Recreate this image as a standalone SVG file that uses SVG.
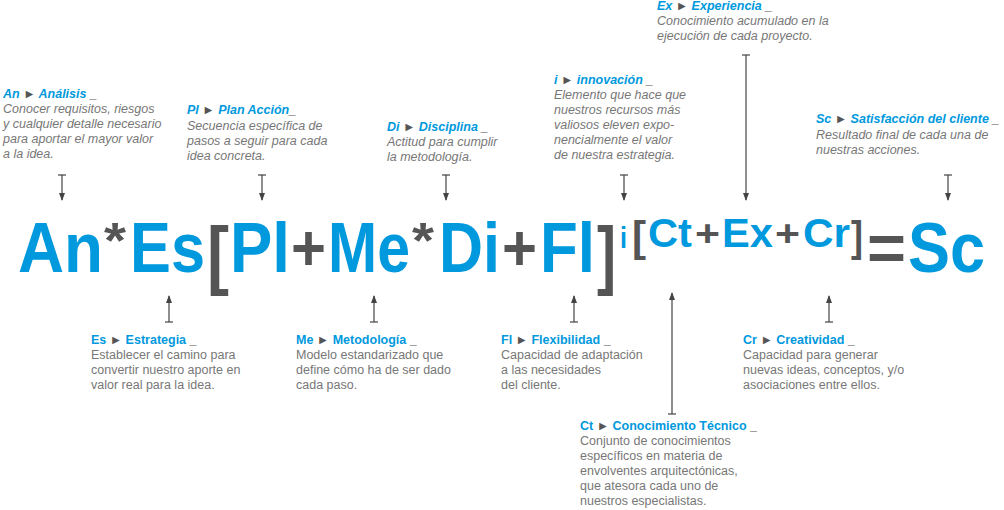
<svg xmlns="http://www.w3.org/2000/svg" width="1004" height="510" viewBox="0 0 1004 510">
<defs>
<marker id="ah" viewBox="0 0 8 8" refX="7" refY="4" markerWidth="8" markerHeight="8" markerUnits="userSpaceOnUse" orient="auto"><path d="M0,1 L8,4 L0,7 Z" fill="#444"/></marker>
<marker id="tk" viewBox="0 0 2 8" refX="1" refY="4" markerWidth="2" markerHeight="8" markerUnits="userSpaceOnUse" orient="auto"><path d="M1,0 V8" stroke="#444" stroke-width="1.2"/></marker>
</defs>
<style>
.b{fill:#0099dd;font-family:"Liberation Sans",Arial,sans-serif;font-weight:bold}
.g{fill:#555;font-family:"Liberation Sans",Arial,sans-serif;font-weight:bold}
.t{fill:#0099dd;font-family:"Liberation Sans",Arial,sans-serif;font-weight:bold;font-size:12.5px}
.ti{font-style:italic}
.d{fill:#777;font-family:"Liberation Sans",Arial,sans-serif;font-size:12.5px}
.di{font-style:italic}
.tg{fill:#555}
line{stroke:#444;stroke-width:1.2;marker-start:url(#tk);marker-end:url(#ah)}
</style>
<g id="connectors">
<line x1="62" y1="175" x2="62" y2="200"/>
<line x1="262" y1="175" x2="262" y2="200"/>
<line x1="446" y1="175" x2="446" y2="200"/>
<line x1="624" y1="175" x2="624" y2="200"/>
<line x1="746" y1="55" x2="746" y2="200"/>
<line x1="948" y1="175" x2="948" y2="200"/>
<line x1="169" y1="322" x2="169" y2="296"/>
<line x1="374" y1="322" x2="374" y2="296"/>
<line x1="574" y1="322" x2="574" y2="296"/>
<line x1="672" y1="414" x2="672" y2="293"/>
<line x1="829" y1="322" x2="829" y2="296"/>
</g>
<g id="formula">
<text class="b" x="18" y="272" font-size="70" textLength="85" lengthAdjust="spacingAndGlyphs">An</text>
<text class="g" x="104" y="258" font-size="50" textLength="22" lengthAdjust="spacingAndGlyphs">*</text>
<text class="b" x="130" y="272" font-size="70" textLength="75" lengthAdjust="spacingAndGlyphs">Es</text>
<text class="g" x="207" y="280" font-size="76" textLength="22" lengthAdjust="spacingAndGlyphs">[</text>
<text class="b" x="230" y="272" font-size="70" textLength="60" lengthAdjust="spacingAndGlyphs">Pl</text>
<text class="g" x="291" y="270" font-size="64" textLength="35" lengthAdjust="spacingAndGlyphs">+</text>
<text class="b" x="328" y="272" font-size="70" textLength="82" lengthAdjust="spacingAndGlyphs">Me</text>
<text class="g" x="412" y="258" font-size="50" textLength="22" lengthAdjust="spacingAndGlyphs">*</text>
<text class="b" x="439" y="272" font-size="70" textLength="61" lengthAdjust="spacingAndGlyphs">Di</text>
<text class="g" x="502" y="270" font-size="64" textLength="35" lengthAdjust="spacingAndGlyphs">+</text>
<text class="b" x="540" y="272" font-size="70" textLength="55" lengthAdjust="spacingAndGlyphs">Fl</text>
<text class="g" x="597" y="280" font-size="76" textLength="19" lengthAdjust="spacingAndGlyphs">]</text>
<text class="b" x="620" y="248" font-size="30" textLength="7" lengthAdjust="spacingAndGlyphs">i</text>
<text class="g" x="632" y="251" font-size="42" textLength="14" lengthAdjust="spacingAndGlyphs">[</text>
<text class="b" x="648" y="247" font-size="40" textLength="44" lengthAdjust="spacingAndGlyphs">Ct</text>
<text class="g" x="695" y="246" font-size="36" textLength="25" lengthAdjust="spacingAndGlyphs">+</text>
<text class="b" x="722" y="247" font-size="40" textLength="51" lengthAdjust="spacingAndGlyphs">Ex</text>
<text class="g" x="775" y="246" font-size="36" textLength="25" lengthAdjust="spacingAndGlyphs">+</text>
<text class="b" x="803" y="247" font-size="40" textLength="47" lengthAdjust="spacingAndGlyphs">Cr</text>
<text class="g" x="851" y="251" font-size="42" textLength="12" lengthAdjust="spacingAndGlyphs">]</text>
<text class="g" x="867" y="270" font-size="64" textLength="39" lengthAdjust="spacingAndGlyphs">=</text>
<text class="b" x="908" y="272" font-size="70" textLength="77" lengthAdjust="spacingAndGlyphs">Sc</text>
</g>
<g id="n-an">
<text class="t ti" x="3" y="98">An <tspan class="tg">►</tspan> Análisis <tspan class="tg">_</tspan></text>
<text class="d di" x="3" y="113">Conocer requisitos, riesgos</text>
<text class="d di" x="3" y="128">y cualquier detalle necesario</text>
<text class="d di" x="3" y="143">para aportar el mayor valor</text>
<text class="d di" x="3" y="158">a la idea.</text>
</g>
<g id="n-pl">
<text class="t ti" x="187" y="114">Pl <tspan class="tg">►</tspan> Plan Acción<tspan class="tg">_</tspan></text>
<text class="d di" x="187" y="130">Secuencia específica de</text>
<text class="d di" x="187" y="145">pasos a seguir para cada</text>
<text class="d di" x="187" y="160">idea concreta.</text>
</g>
<g id="n-di">
<text class="t ti" x="387" y="131">Di <tspan class="tg">►</tspan> Disciplina <tspan class="tg">_</tspan></text>
<text class="d di" x="387" y="146">Actitud para cumplir</text>
<text class="d di" x="387" y="161">la metodología.</text>
</g>
<g id="n-i">
<text class="t ti" x="554" y="84">i <tspan class="tg">►</tspan> innovación <tspan class="tg">_</tspan></text>
<text class="d di" x="554" y="99">Elemento que hace que</text>
<text class="d di" x="554" y="114">nuestros recursos más</text>
<text class="d di" x="554" y="129">valiosos eleven expo-</text>
<text class="d di" x="554" y="144">nencialmente el valor</text>
<text class="d di" x="554" y="159">de nuestra estrategia.</text>
</g>
<g id="n-ex">
<text class="t ti" x="657" y="10">Ex <tspan class="tg">►</tspan> Experiencia <tspan class="tg">_</tspan></text>
<text class="d di" x="657" y="25">Conocimiento acumulado en la</text>
<text class="d di" x="657" y="40">ejecución de cada proyecto.</text>
</g>
<g id="n-sc">
<text class="t ti" x="816" y="123">Sc <tspan class="tg">►</tspan> Satisfacción del cliente <tspan class="tg">_</tspan></text>
<text class="d di" x="816" y="139">Resultado final de cada una de</text>
<text class="d di" x="816" y="154">nuestras acciones.</text>
</g>
<g id="n-es">
<text class="t" x="91" y="344">Es <tspan class="tg">►</tspan> Estrategia <tspan class="tg">_</tspan></text>
<text class="d" x="91" y="359">Establecer el camino para</text>
<text class="d" x="91" y="374">convertir nuestro aporte en</text>
<text class="d" x="91" y="389">valor real para la idea.</text>
</g>
<g id="n-me">
<text class="t" x="296" y="344">Me <tspan class="tg">►</tspan> Metodología <tspan class="tg">_</tspan></text>
<text class="d" x="296" y="359">Modelo estandarizado que</text>
<text class="d" x="296" y="374">define cómo ha de ser dado</text>
<text class="d" x="296" y="389">cada paso.</text>
</g>
<g id="n-fl">
<text class="t" x="501" y="344">Fl <tspan class="tg">►</tspan> Flexibilidad <tspan class="tg">_</tspan></text>
<text class="d" x="501" y="359">Capacidad de adaptación</text>
<text class="d" x="501" y="374">a las necesidades</text>
<text class="d" x="501" y="389">del cliente.</text>
</g>
<g id="n-ct">
<text class="t" x="580" y="430">Ct <tspan class="tg">►</tspan> Conocimiento Técnico <tspan class="tg">_</tspan></text>
<text class="d" x="580" y="445">Conjunto de conocimientos</text>
<text class="d" x="580" y="460">específicos en materia de</text>
<text class="d" x="580" y="475">envolventes arquitectónicas,</text>
<text class="d" x="580" y="490">que atesora cada uno de</text>
<text class="d" x="580" y="505">nuestros especialistas.</text>
</g>
<g id="n-cr">
<text class="t" x="743" y="344">Cr <tspan class="tg">►</tspan> Creatividad <tspan class="tg">_</tspan></text>
<text class="d" x="743" y="359">Capacidad para generar</text>
<text class="d" x="743" y="374">nuevas ideas, conceptos, y/o</text>
<text class="d" x="743" y="389">asociaciones entre ellos.</text>
</g>
</svg>
